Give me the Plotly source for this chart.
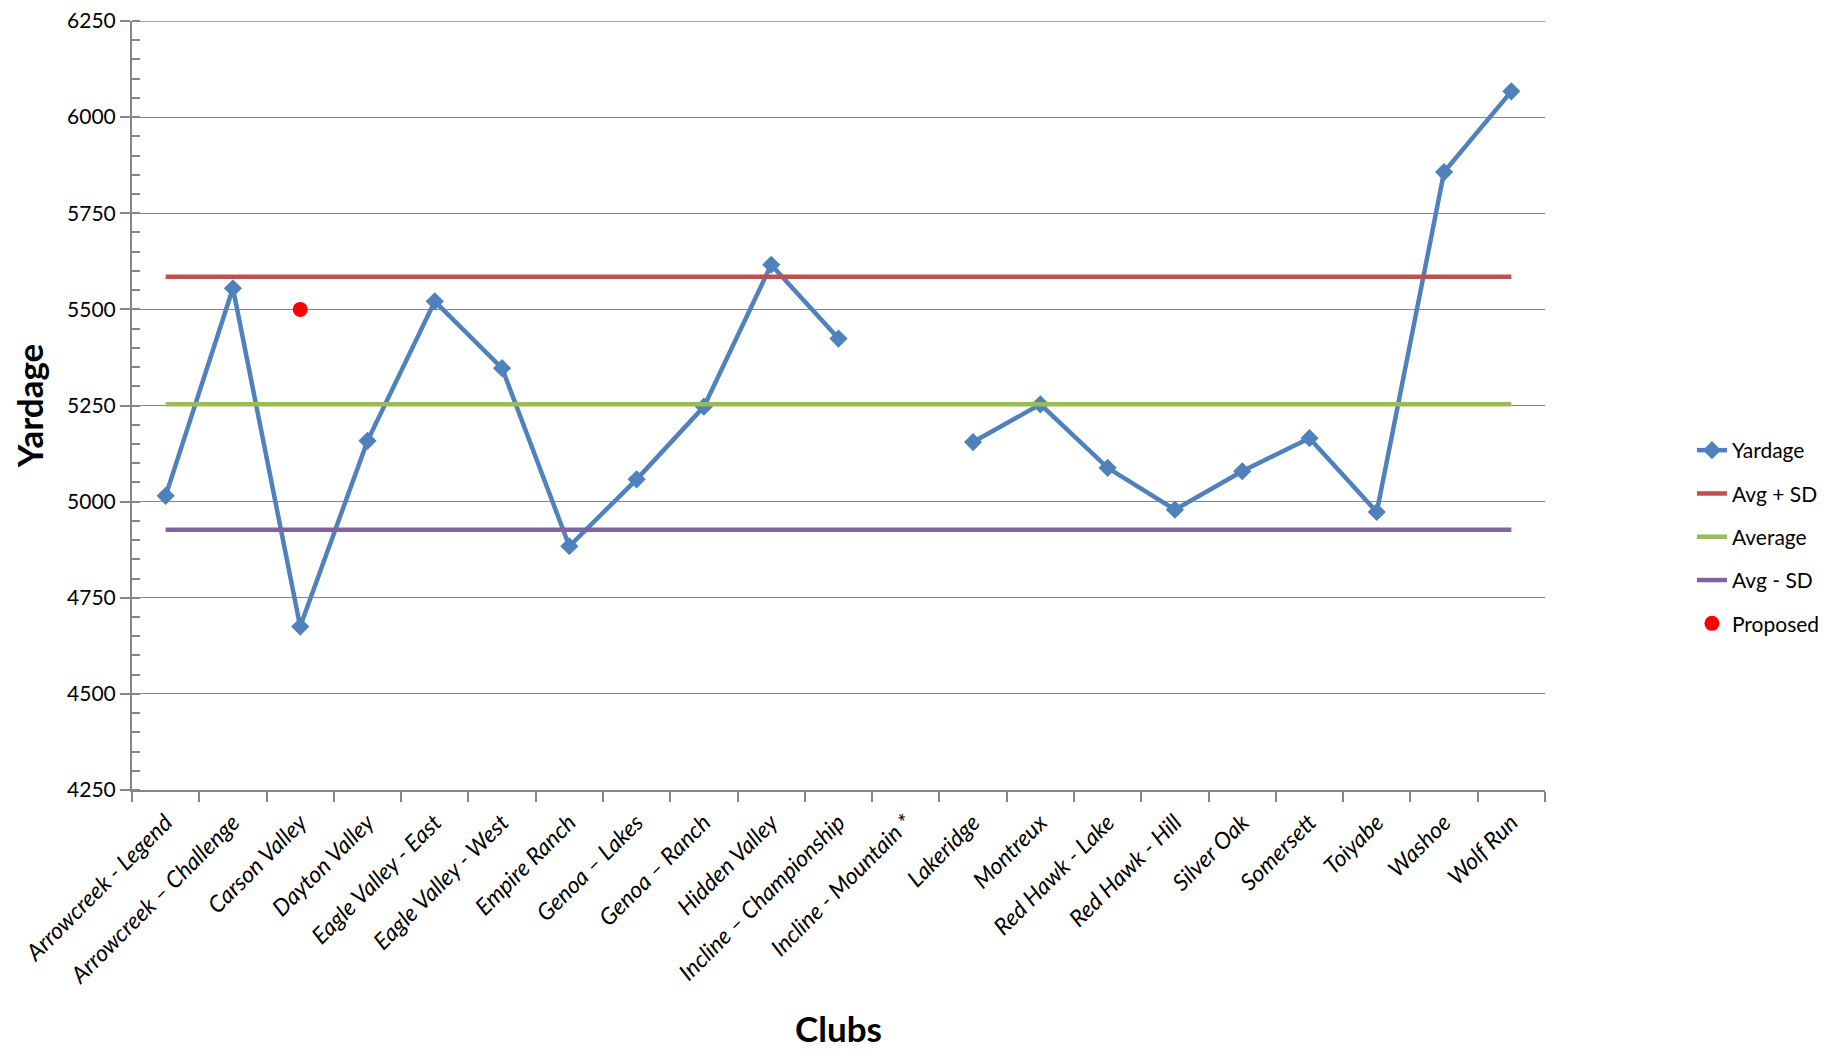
import plotly.graph_objects as go

clubs = [
    "Arrowcreek - Legend", "Arrowcreek – Challenge", "Carson Valley", "Dayton Valley",
    "Eagle Valley - East", "Eagle Valley - West", "Empire Ranch", "Genoa – Lakes",
    "Genoa – Ranch", "Hidden Valley", "Incline – Championship", "Incline - Mountain *",
    "Lakeridge", "Montreux", "Red Hawk - Lake", "Red Hawk - Hill", "Silver Oak",
    "Somersett", "Toiyabe", "Washoe", "Wolf Run",
]
yardage = [5015, 5555, 4675, 5158, 5521, 5347, 4884, 5058, 5247, 5616, 5424, None,
           5155, 5253, 5088, 4979, 5079, 5165, 4973, 5857, 6067]
avg_plus_sd = 5585
average = 5253
avg_minus_sd = 4927
proposed_club = ["Carson Valley"]
proposed_value = [5500]
y_min, y_max = 4250, 6250

FONT = "Lato"
GRID = "#868686"

fig = go.Figure()
fig.add_trace(go.Scatter(
    x=clubs, y=yardage, name="Yardage", mode="lines+markers", connectgaps=False,
    line=dict(color="#4F81BD", width=4.5),
    marker=dict(symbol="diamond", size=14, color="#4F81BD"),
    legendgroup="a",
))
fig.add_trace(go.Scatter(
    x=clubs, y=[avg_plus_sd] * len(clubs), name="Avg + SD", mode="lines",
    line=dict(color="#C0504D", width=4.5), legendgroup="b",
))
fig.add_trace(go.Scatter(
    x=clubs, y=[average] * len(clubs), name="Average", mode="lines",
    line=dict(color="#9BBB59", width=4.5), legendgroup="c",
))
fig.add_trace(go.Scatter(
    x=clubs, y=[avg_minus_sd] * len(clubs), name="Avg - SD", mode="lines",
    line=dict(color="#8064A2", width=4.5), legendgroup="d",
))
fig.add_trace(go.Scatter(
    x=proposed_club, y=proposed_value, name="Proposed", mode="markers",
    marker=dict(symbol="circle", size=15, color="#FF0000"), legendgroup="e",
))

# top gridline at the axis maximum
fig.add_shape(type="line", xref="paper", yref="y", x0=0, x1=1, y0=y_max, y1=y_max,
              line=dict(color=GRID, width=1.5), layer="below")

fig.update_layout(
    width=1838, height=1057,
    margin=dict(l=124, r=301, t=13, b=275, autoexpand=False),
    paper_bgcolor="white", plot_bgcolor="white",
    font=dict(family=FONT, color="black", size=20),
    showlegend=True,
    legend=dict(x=1.104, xanchor="left", y=0.329, yanchor="middle",
                font=dict(family=FONT, size=21), tracegroupgap=13,
                bgcolor="rgba(0,0,0,0)"),
)
fig.update_xaxes(
    type="category", tickson="boundaries", ticks="outside", ticklen=10,
    tickcolor=GRID, tickwidth=1.5, ticklabelstandoff=8, automargin=False,
    showline=True, linecolor=GRID, linewidth=2, showgrid=False,
    tickangle=-45, tickfont=dict(family=FONT, size=23, style="italic"),
    title=dict(text="<b>Clubs</b>", font=dict(family=FONT, size=35), standoff=30),
    range=[-0.5, len(clubs) - 0.5],
)
fig.update_yaxes(
    range=[y_min, y_max], dtick=250, tick0=y_min,
    ticks="outside", ticklen=10, tickcolor=GRID, tickwidth=1.5, automargin=False,
    showline=True, linecolor=GRID, linewidth=2,
    showgrid=True, gridcolor=GRID, gridwidth=1.3,
    zeroline=False, ticklabeloverflow="allow",
    minor=dict(dtick=50, ticks="inside", ticklen=8, tickcolor=GRID, showgrid=False),
    tickfont=dict(family=FONT, size=21),
    title=dict(text="<b>Yardage</b>", font=dict(family=FONT, size=35), standoff=22),
)

fig.write_html("out.html")
